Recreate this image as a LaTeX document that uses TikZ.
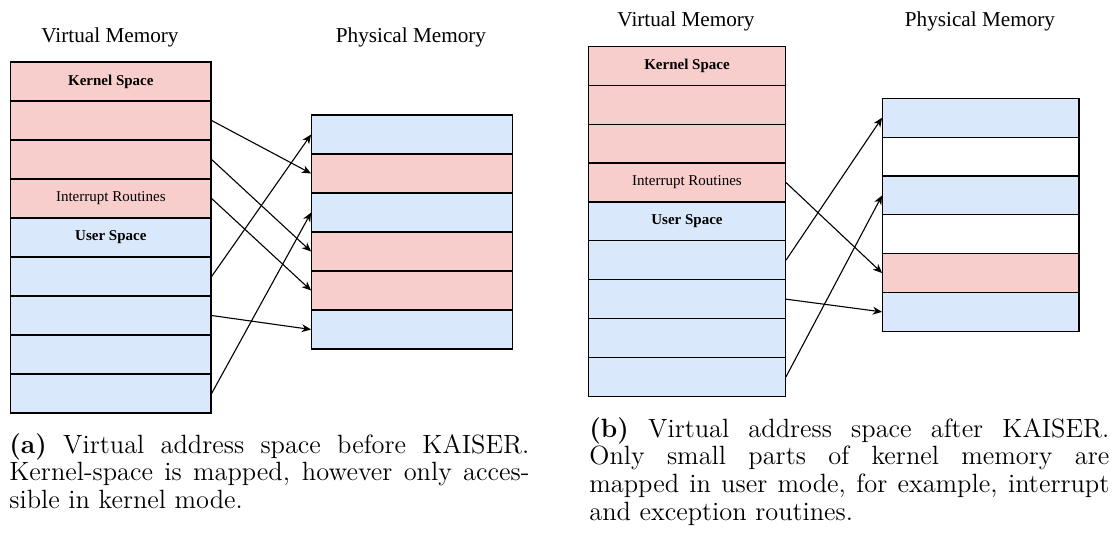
\documentclass[tikz,border=0pt]{standalone}
\usepackage{fontspec}
\usetikzlibrary{arrows.meta}
\newfontfamily\tnr{Liberation Serif}
\definecolor{kpink}{HTML}{F8CECC}
\definecolor{ublue}{HTML}{DAE8FC}
\tikzset{
  cellA/.style={draw=black, line width=0.6pt, inner sep=0pt, minimum width=100.15pt, minimum height=19.5pt, font=\tnr\fontsize{7.5pt}{9pt}\selectfont},
  cellAp/.style={draw=black, line width=0.6pt, inner sep=0pt, minimum width=100.5pt, minimum height=19.5pt},
  cellB/.style={draw=black, line width=0.6pt, inner sep=0pt, minimum width=98.3pt, minimum height=19.45pt, font=\tnr\fontsize{7.5pt}{9pt}\selectfont},
  cellBp/.style={draw=black, line width=0.6pt, inner sep=0pt, minimum width=98.15pt, minimum height=19.42pt},
  kernfill/.style={fill=kpink},
  usrfill/.style={fill=ublue},
  freefill/.style={fill=white},
  memtitle/.style={inner sep=0pt, font=\tnr\fontsize{10.6pt}{12pt}\selectfont},
  maparrow/.style={line width=0.55pt, -{Stealth[length=4.6pt,width=3.9pt,inset=1.4pt]}},
  captext/.style={inner sep=0pt, anchor=north west, text width=260pt, align=justify, font=\fontsize{13.2pt}{13.85pt}\selectfont}
}
\begin{document}
\begin{tikzpicture}[x=0.5pt,y=-0.5pt]
\useasboundingbox (0,0) rectangle (1113,536);
% ---------- panel (a) ----------
\node[memtitle] (ta1) at (110,37) {Virtual Memory};
\node[memtitle] (ta2) at (411,37) {Physical Memory};
\node[cellA,kernfill] (la1) at (110.85,81.5) {\textbf{Kernel Space}};
\node[cellA,kernfill] (la2) at (110.85,120.5) {};
\node[cellA,kernfill] (la3) at (110.85,159.5) {};
\node[cellA,kernfill] (la4) at (110.85,198.5) {Interrupt Routines};
\node[cellA,usrfill] (la5) at (110.85,237.5) {\textbf{User Space}};
\node[cellA,usrfill] (la6) at (110.85,276.5) {};
\node[cellA,usrfill] (la7) at (110.85,315.5) {};
\node[cellA,usrfill] (la8) at (110.85,354.5) {};
\node[cellA,usrfill] (la9) at (110.85,393.5) {};
\node[cellAp,usrfill] (pa1) at (412.2,134.5) {};
\node[cellAp,kernfill] (pa2) at (412.2,173.5) {};
\node[cellAp,usrfill] (pa3) at (412.2,212.5) {};
\node[cellAp,kernfill] (pa4) at (412.2,251.5) {};
\node[cellAp,kernfill] (pa5) at (412.2,290.5) {};
\node[cellAp,usrfill] (pa6) at (412.2,329.5) {};
\draw[maparrow] (la2.east) -- (pa2.west);
\draw[maparrow] (la3.east) -- (pa4.west);
\draw[maparrow] (la4.east) -- (pa5.west);
\draw[maparrow] (la6.east) -- (pa1.west);
\draw[maparrow] (la7.east) -- (pa6.west);
\draw[maparrow] (la9.east) -- (pa3.west);
\node[captext] (capa) at (9,433) {\textbf{(a)} Virtual address space before KAISER.\linebreak Kernel-space is mapped, however only acces-\linebreak sible in kernel mode.};
% ---------- panel (b) ----------
\node[memtitle] (tb1) at (686,21) {Virtual Memory};
\node[memtitle] (tb2) at (980,21) {Physical Memory};
\node[cellB,kernfill] (lb1) at (687,65.75) {\textbf{Kernel Space}};
\node[cellB,kernfill] (lb2) at (687,104.65) {};
\node[cellB,kernfill] (lb3) at (687,143.55) {};
\node[cellB,kernfill] (lb4) at (687,182.45) {Interrupt Routines};
\node[cellB,usrfill] (lb5) at (687,221.35) {\textbf{User Space}};
\node[cellB,usrfill] (lb6) at (687,260.25) {};
\node[cellB,usrfill] (lb7) at (687,299.15) {};
\node[cellB,usrfill] (lb8) at (687,338.05) {};
\node[cellB,usrfill] (lb9) at (687,376.95) {};
\node[cellBp,usrfill] (pb1) at (980.85,117.7) {};
\node[cellBp,freefill] (pb2) at (980.85,156.55) {};
\node[cellBp,usrfill] (pb3) at (980.85,195.4) {};
\node[cellBp,freefill] (pb4) at (980.85,234.2) {};
\node[cellBp,kernfill] (pb5) at (980.85,273.05) {};
\node[cellBp,usrfill] (pb6) at (980.85,311.9) {};
\draw[maparrow] (lb4.east) -- (pb5.west);
\draw[maparrow] (lb6.east) -- (pb1.west);
\draw[maparrow] (lb7.east) -- (pb6.west);
\draw[maparrow] (lb9.east) -- (pb3.west);
\node[captext] (capb) at (589,417) {\textbf{(b)} Virtual address space after KAISER.\linebreak Only small parts of kernel memory are\linebreak mapped in user mode, for example, interrupt\linebreak and exception routines.};
\end{tikzpicture}
\end{document}
